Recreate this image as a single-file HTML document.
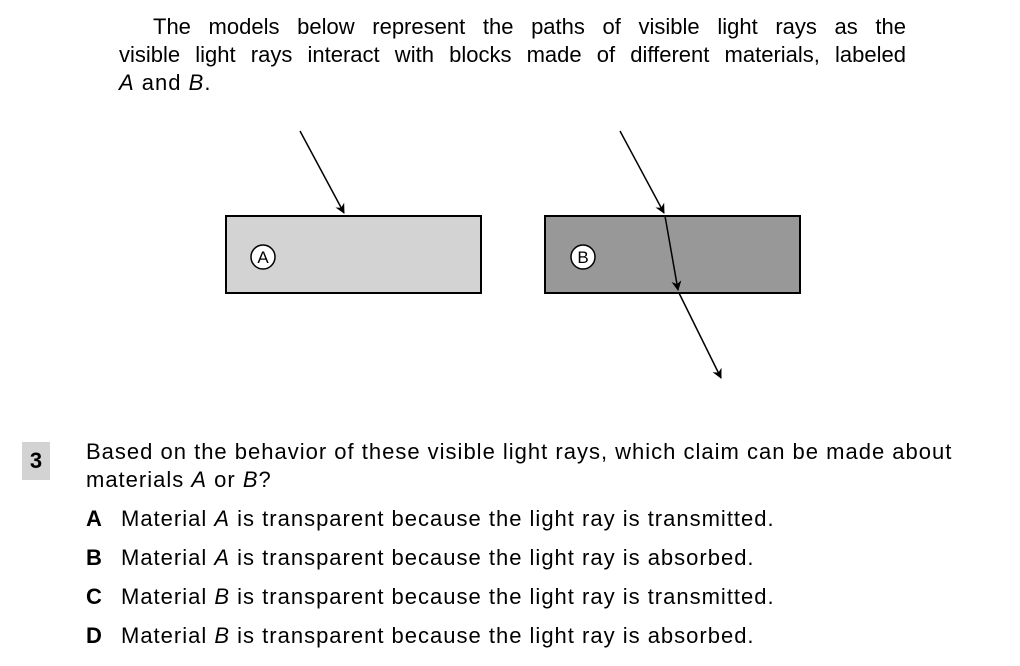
<!DOCTYPE html>
<html><head><meta charset="utf-8"><style>
body{margin:0;width:1020px;height:666px;background:#fff;position:relative;font-family:"Liberation Sans",sans-serif;color:#000;overflow:hidden}
.t{position:absolute;font-size:22px;letter-spacing:1px;white-space:nowrap;line-height:28px}
.j{position:absolute;font-size:22px;line-height:28px;white-space:nowrap;text-align:justify;text-align-last:justify}
.badge{position:absolute;left:22px;top:442px;width:28px;height:38px;background:#d3d3d3;font-weight:bold;font-size:22px;text-align:center;line-height:38px}
b{font-weight:bold}
</style></head><body>
<div class="j" style="left:153px;top:13px;width:753px">The models below represent the paths of visible light rays as the</div>
<div class="j" style="left:119px;top:41px;width:787px">visible light rays interact with blocks made of different materials, labeled</div>
<div class="t" style="left:119px;top:69px"><i>A</i> and <i>B</i>.</div>
<svg style="position:absolute;left:0;top:0" width="1020" height="666">
<defs><marker id="ar" markerWidth="10" markerHeight="10" refX="9" refY="5" orient="auto" markerUnits="userSpaceOnUse"><path d="M0,0 L10,5 L0,10 L3,5 Z" fill="#000"/></marker></defs>
<rect x="226" y="216" width="255" height="77" fill="#d3d3d3" stroke="#000" stroke-width="2"/>
<rect x="545" y="216" width="255" height="77" fill="#989898" stroke="#000" stroke-width="2"/>
<circle cx="263" cy="257" r="12" fill="#fff" stroke="#000" stroke-width="1.5"/>
<text x="263" y="263" font-size="17" text-anchor="middle" font-family="Liberation Sans">A</text>
<circle cx="583" cy="257" r="12" fill="#fff" stroke="#000" stroke-width="1.5"/>
<text x="583" y="263" font-size="17" text-anchor="middle" font-family="Liberation Sans">B</text>
<line x1="300" y1="131" x2="344" y2="213" stroke="#000" stroke-width="1.5" marker-end="url(#ar)"/>
<line x1="620" y1="131" x2="664" y2="213" stroke="#000" stroke-width="1.5" marker-end="url(#ar)"/>
<line x1="665" y1="216" x2="678" y2="290" stroke="#000" stroke-width="1.5" marker-end="url(#ar)"/>
<line x1="679" y1="293" x2="721" y2="378" stroke="#000" stroke-width="1.5" marker-end="url(#ar)"/>
</svg>
<div class="badge">3</div>
<div class="t" style="left:86px;top:438px">Based on the behavior of these visible light rays, which claim can be made about</div>
<div class="t" style="left:86px;top:466px">materials <i>A</i> or <i>B</i>?</div>
<div class="t" style="left:86px;top:505px"><b>A</b></div><div class="t" style="left:121px;top:505px">Material <i>A</i> is transparent because the light ray is transmitted.</div>
<div class="t" style="left:86px;top:544px"><b>B</b></div><div class="t" style="left:121px;top:544px">Material <i>A</i> is transparent because the light ray is absorbed.</div>
<div class="t" style="left:86px;top:583px"><b>C</b></div><div class="t" style="left:121px;top:583px">Material <i>B</i> is transparent because the light ray is transmitted.</div>
<div class="t" style="left:86px;top:622px"><b>D</b></div><div class="t" style="left:121px;top:622px">Material <i>B</i> is transparent because the light ray is absorbed.</div>
</body></html>
